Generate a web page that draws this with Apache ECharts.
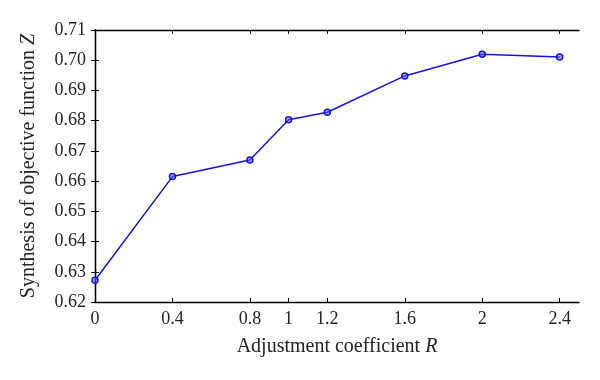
<!DOCTYPE html>
<html><head><meta charset="utf-8">
<script src="https://cdn.jsdelivr.net/npm/echarts@6/dist/echarts.min.js"></script>
<style>html,body{margin:0;padding:0;background:#fff}#c{width:600px;height:380px}</style>
</head><body><div id="c"></div>
<script>
const xValues = [0, 0.4, 0.8, 1, 1.2, 1.6, 2, 2.4];
const zValues = [0.6272, 0.6615, 0.6670, 0.6803, 0.6828, 0.6948, 0.7020, 0.7011];
const xTicks = [0, 0.4, 0.8, 1, 1.2, 1.6, 2, 2.4];
const xName = 'Adjustment coefficient ';
const xNameVar = 'R';
const yName = 'Synthesis of objective function ';
const yNameVar = 'Z';

const font = 'Liberation Serif';
const chart = echarts.init(document.getElementById('c'), null, {renderer: 'canvas'});
const axisLine = {show: true, lineStyle: {color: '#000', width: 1.3}};
const tick = {show: true, inside: true, length: 4, lineStyle: {color: '#000', width: 1}};
const nameRich = {
  n: {fontFamily: font, fontSize: 20, color: '#222'},
  i: {fontFamily: font, fontSize: 20, color: '#222', fontStyle: 'italic'}
};
chart.setOption({
  animation: false,
  backgroundColor: '#fff',
  grid: {left: 95, right: 21, top: 30, bottom: 78},
  xAxis: [{
    type: 'value', min: 0, max: 2.5, position: 'bottom',
    axisLine: axisLine,
    axisTick: Object.assign({}, tick, {customValues: xTicks}),
    axisLabel: {customValues: xTicks, fontFamily: font, fontSize: 18, color: '#222', margin: 8,
      formatter: v => String(v)},
    splitLine: {show: false},
    name: '{n|' + xName + '}{i|' + xNameVar + '}',
    nameLocation: 'middle', nameGap: 35,
    nameTextStyle: {rich: nameRich}
  }, {
    type: 'value', min: 0, max: 2.5, position: 'top',
    axisLine: axisLine,
    axisTick: Object.assign({}, tick, {customValues: xTicks}),
    axisLabel: {show: false}, splitLine: {show: false}
  }],
  yAxis: [{
    type: 'value', min: 0.62, max: 0.71, interval: 0.01,
    axisLine: axisLine, axisTick: tick,
    axisLabel: {fontFamily: font, fontSize: 18, color: '#222', margin: 9,
      formatter: v => v.toFixed(2)},
    splitLine: {show: false},
    name: '{n|' + yName + '}{i|' + yNameVar + '}',
    nameLocation: 'middle', nameGap: 56,
    nameTextStyle: {rich: nameRich}
  }, {
    type: 'value', min: 0.62, max: 0.71, interval: 0.01, position: 'right',
    axisLine: axisLine, axisTick: tick,
    axisLabel: {show: false}, splitLine: {show: false}
  }],
  series: [{
    type: 'line',
    data: xValues.map((x, i) => [x, zValues[i]]),
    symbol: 'circle', symbolSize: 6,
    itemStyle: {color: 'rgba(90,90,255,0.5)', borderColor: '#1414e0', borderWidth: 1.5},
    lineStyle: {color: '#1414e0', width: 1.5},
    z: 5
  }]
});
</script></body></html>
